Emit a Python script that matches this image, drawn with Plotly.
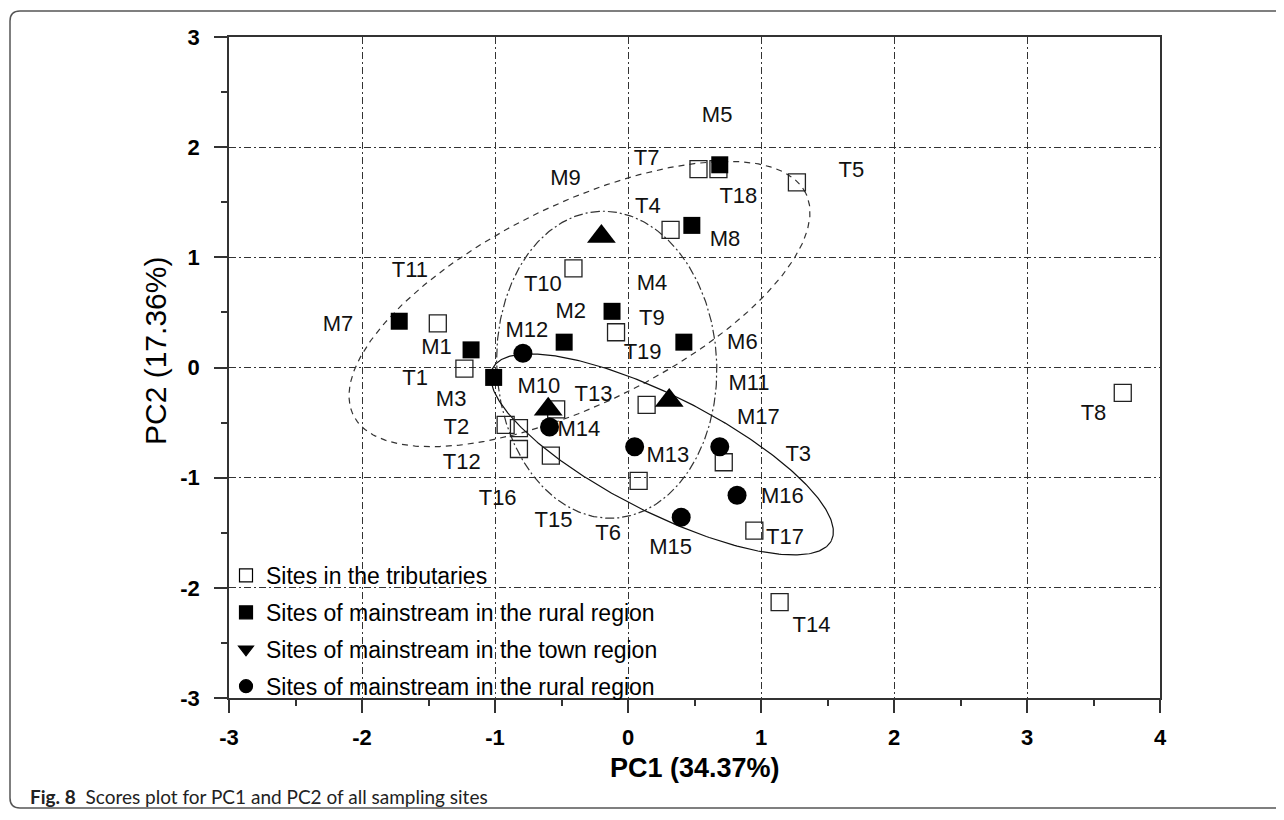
import numpy as np
import plotly.graph_objects as go

# ---------------- data ----------------
trib_names = ["T1", "T2", "T3", "T4", "T5", "T6", "T7", "T8", "T9", "T10",
              "T11", "T12", "T13", "T14", "T15", "T16", "T17", "T18", "T19"]
trib_pc1 = [-1.23, -0.92, 0.72, 0.32, 1.27, 0.08, 0.53, 3.72, -0.09, -0.41,
            -1.43, -0.82, -0.54, 1.14, -0.58, -0.82, 0.95, 0.68, 0.14]
trib_pc2 = [-0.01, -0.52, -0.86, 1.25, 1.68, -1.03, 1.80, -0.23, 0.32, 0.90,
            0.40, -0.55, -0.38, -2.13, -0.80, -0.74, -1.48, 1.80, -0.34]

rural_names = ["M1", "M2", "M3", "M4", "M5", "M6", "M7", "M8"]
rural_pc1 = [-1.18, -0.48, -1.01, -0.12, 0.69, 0.42, -1.72, 0.48]
rural_pc2 = [0.16, 0.23, -0.09, 0.51, 1.84, 0.23, 0.42, 1.29]

town_names = ["M9", "M10", "M11"]
town_pc1 = [-0.20, -0.60, 0.31]
town_pc2 = [1.19, -0.38, -0.30]

down_names = ["M12", "M13", "M14", "M15", "M16", "M17"]
down_pc1 = [-0.79, 0.05, -0.59, 0.40, 0.82, 0.69]
down_pc2 = [0.13, -0.72, -0.54, -1.36, -1.16, -0.72]

# label anchor positions (PC1, PC2) for every site name
label_names = ["T1", "T2", "T3", "T4", "T5", "T6", "T7", "T8", "T9", "T10",
               "T11", "T12", "T13", "T14", "T15", "T16", "T17", "T18", "T19",
               "M1", "M2", "M3", "M4", "M5", "M6", "M7", "M8", "M9", "M10",
               "M11", "M12", "M13", "M14", "M15", "M16", "M17"]
label_pc1 = [-1.60, -1.29, 1.28, 0.15, 1.68, -0.15, 0.14, 3.50, 0.18, -0.64,
             -1.64, -1.25, -0.26, 1.38, -0.56, -0.98, 1.18, 0.83, 0.11,
             -1.44, -0.43, -1.33, 0.18, 0.67, 0.86, -2.18, 0.73, -0.47, -0.67,
             0.91, -0.76, 0.30, -0.37, 0.32, 1.16, 0.98]
label_pc2 = [-0.11, -0.55, -0.80, 1.45, 1.78, -1.52, 1.89, -0.43, 0.44, 0.74,
             0.87, -0.87, -0.25, -2.35, -1.40, -1.20, -1.55, 1.54, 0.13,
             0.17, 0.50, -0.30, 0.75, 2.28, 0.22, 0.38, 1.15, 1.71, -0.18,
             -0.15, 0.33, -0.81, -0.57, -1.64, -1.18, -0.46]

# group ellipses: centre (PC1, PC2), semi-axes (screen px), screen angle (deg)
ell_cx = [-0.365, -0.16, 0.256]
ell_cy = [0.576, 0.025, -0.789]
ell_a = [252, 153.6, 190]
ell_b = [100, 110, 58]
ell_ang = [26.1, 92.7, -27]

x_ticks = [-3, -2, -1, 0, 1, 2, 3, 4]
x_ticklabels = ["-3", "-2", "-1", "0", "1", "2", "3", "4"]
y_ticks = [-3, -2, -1, 0, 1, 2, 3]
y_ticklabels = ["-3", "-2", "-1", "0", "1", "2", "3"]

legend_labels = ["Sites in the tributaries",
                 "Sites of mainstream in the rural region",
                 "Sites of mainstream in the town region",
                 "Sites of mainstream in the rural region"]

x_title = "PC1 (34.37%)"
y_title = "PC2 (17.36%)"
caption_bold = "Fig. 8"
caption_text = "Scores plot for PC1 and PC2 of all sampling sites"

# ---------------- layout geometry ----------------
# the page places the figure 8 px from the window's top-left corner
OFF = 8
REF_L, REF_R, REF_T, REF_B = 229, 1160, 37, 698   # plot box in window pixels
W, H = 1284 - OFF, 820 - OFF
ML, MT = REF_L - OFF, REF_T - OFF
MR, MB = W - (REF_R - OFF), H - (REF_B - OFF)
PLOT_W = REF_R - REF_L
PLOT_H = REF_B - REF_T
X_MIN, X_MAX = -3, 4
Y_MIN, Y_MAX = -3, 3
PX_X = PLOT_W / (X_MAX - X_MIN)
PX_Y = PLOT_H / (Y_MAX - Y_MIN)

FONT = "Liberation Sans, Arial, sans-serif"
INK = "#111111"
LINE = "#333333"


def px2paper_x(px):
    return (px - REF_L) / PLOT_W


def px2paper_y(py):
    return (REF_B - py) / PLOT_H


def ellipse(cx, cy, a_px, b_px, ang_deg, n=360):
    t = np.linspace(0, 2 * np.pi, n)
    th = np.radians(ang_deg)
    u = a_px * np.cos(t)
    v = b_px * np.sin(t)
    dx = u * np.cos(th) - v * np.sin(th)
    dy = u * np.sin(th) + v * np.cos(th)
    return cx + dx / PX_X, cy + dy / PX_Y


fig = go.Figure()

# ellipses
ell_dash = ["6px,5px", "9px,3px,2px,3px", "solid"]
for i in range(3):
    ex, ey = ellipse(ell_cx[i], ell_cy[i], ell_a[i], ell_b[i], ell_ang[i])
    fig.add_trace(go.Scatter(x=ex, y=ey, mode="lines",
                             line=dict(color=LINE if i < 2 else "#111", width=1.2,
                                       dash=ell_dash[i]),
                             hoverinfo="skip", showlegend=False))

# markers
fig.add_trace(go.Scatter(x=trib_pc1, y=trib_pc2, mode="markers", text=trib_names,
                         marker=dict(symbol="square-open", size=17, color="#222",
                                     line=dict(width=1.3, color="#222")),
                         showlegend=False))
fig.add_trace(go.Scatter(x=rural_pc1, y=rural_pc2, mode="markers", text=rural_names,
                         marker=dict(symbol="square", size=17, color="#000"),
                         showlegend=False))
fig.add_trace(go.Scatter(x=town_pc1, y=town_pc2, mode="markers", text=town_names,
                         marker=dict(symbol="triangle-up", size=25, color="#000"),
                         showlegend=False))
fig.add_trace(go.Scatter(x=down_pc1, y=down_pc2, mode="markers", text=down_names,
                         marker=dict(symbol="circle", size=19, color="#000"),
                         showlegend=False))

# site labels
fig.add_trace(go.Scatter(x=label_pc1, y=label_pc2, mode="text", text=label_names,
                         textposition="middle center",
                         textfont=dict(family=FONT, size=22, color=INK),
                         hoverinfo="skip", showlegend=False))

# legend entries
leg_symbols = ["square-open", "square", "triangle-down", "circle"]
for i, lab in enumerate(legend_labels):
    fig.add_trace(go.Scatter(x=[None], y=[None], mode="markers", name=lab,
                             legendgroup="g%d" % i,
                             marker=dict(symbol=leg_symbols[i], size=13, color="#000",
                                         line=dict(width=1.2, color="#000"))))

axis_common = dict(
    showline=True, linecolor=LINE, linewidth=1.5, mirror=True,
    ticks="outside", ticklen=13, tickwidth=1.5, tickcolor=LINE,
    showgrid=True, gridcolor=LINE, gridwidth=1, griddash="7px,3px,2px,3px",
    zeroline=False,
    tickfont=dict(family=FONT, size=22, color="#000", weight="bold"),
    minor=dict(dtick=0.5, ticks="outside", ticklen=6, tickwidth=1.5,
               tickcolor=LINE, showgrid=False),
)

fig.update_xaxes(range=[X_MIN, X_MAX], tickmode="array", tickvals=x_ticks,
                 ticktext=x_ticklabels, ticklabelstandoff=6, **axis_common)
fig.update_yaxes(range=[Y_MIN, Y_MAX], tickmode="array", tickvals=y_ticks,
                 ticktext=y_ticklabels, ticklabelstandoff=10, **axis_common)

annotations = [
    dict(text="<b>%s</b>" % x_title, xref="paper", yref="paper",
         x=px2paper_x(694.5), y=px2paper_y(768), showarrow=False,
         xanchor="center", yanchor="middle",
         font=dict(family=FONT, size=27, color="#000")),
    dict(text=y_title, xref="paper", yref="paper",
         x=px2paper_x(155), y=px2paper_y(351), showarrow=False, textangle=-90,
         xanchor="center", yanchor="middle",
         font=dict(family=FONT, size=30, color="#000")),
    dict(text="<b>%s</b>  %s" % (caption_bold, caption_text), xref="paper", yref="paper",
         x=px2paper_x(28), y=px2paper_y(796), showarrow=False,
         xanchor="left", yanchor="middle",
         font=dict(family="Lato, Open Sans, sans-serif", size=19, color="#222")),
]

# outer rounded frame of the figure panel (window pixel coordinates)
L_, T_, B_, R_, rr = 10, 11, 808, 1300, 10
pts = lambda px, py: "%.5f,%.5f" % (px2paper_x(px), px2paper_y(py))
frame_path = ("M " + pts(R_, T_) + " L " + pts(L_ + rr, T_) + " Q " + pts(L_, T_) + " " +
              pts(L_, T_ + rr) + " L " + pts(L_, B_ - rr) + " Q " + pts(L_, B_) + " " +
              pts(L_ + rr, B_) + " L " + pts(R_, B_))

fig.update_layout(
    width=W, height=H,
    margin=dict(l=ML, r=MR, t=MT, b=MB),
    plot_bgcolor="white", paper_bgcolor="white",
    annotations=annotations,
    shapes=[dict(type="path", path=frame_path, xref="paper", yref="paper",
                 line=dict(color="#555", width=1.5))],
    showlegend=True,
    legend=dict(x=px2paper_x(226), y=px2paper_y(554), xanchor="left", yanchor="top",
                bgcolor="rgba(0,0,0,0)", borderwidth=0, tracegroupgap=4,
                traceorder="grouped",
                font=dict(family=FONT, size=23, color="#000")),
)

fig.write_html("out.html")
